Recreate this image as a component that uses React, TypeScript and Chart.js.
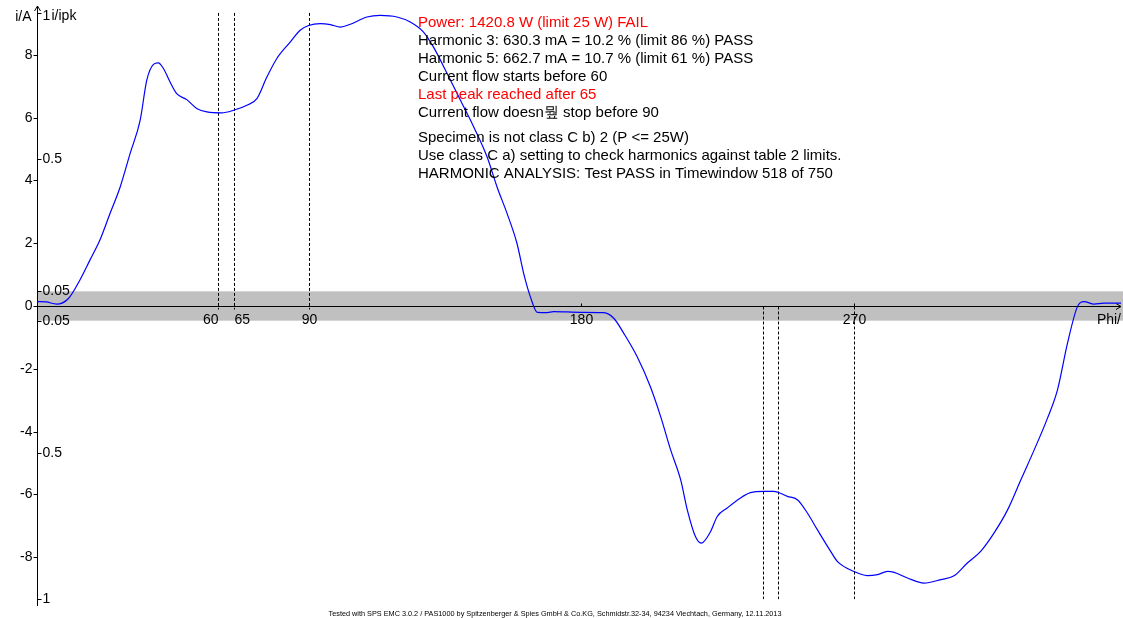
import { useEffect, useRef } from "react";
import { Chart, registerables } from "chart.js";

Chart.register(...registerables);

// Phase angle (degrees) of each sample of the recorded current waveform
const phiDeg = [
  0, 3.0, 6.5, 10.4, 14.2, 17.5, 20.8, 24.2, 27.5, 30.8, 34.1, 36.3, 38.5, 40.1, 41.8, 44.0,
  46.2, 49.5, 52.8, 56.2, 61.1, 65.0, 69.4, 72.7, 76.0, 79.3, 83.7, 87.0, 89.8, 93.6, 97.0,
  100.3, 103.6, 109.1, 113.5, 119.0, 123.4, 127.8, 131.1, 135.6, 140.0, 144.4, 148.8, 152.1,
  155.4, 158.7, 160.9, 163.1, 165.4, 168.7, 170.8, 179.7, 187.4, 190.7, 194.0, 198.4, 202.8,
  206.2, 209.5, 212.8, 215.0, 217.7, 219.6, 222.7, 224.9, 228.2, 232.6, 235.9, 240.3, 243.6,
  248.1, 251.4, 254.7, 258.0, 262.4, 264.6, 270.1, 274.5, 277.9, 281.2, 283.4, 287.8, 293.3,
  298.8, 303.2, 307.6, 312.0, 316.4, 320.9, 325.3, 329.7, 334.1, 337.4, 340.7, 344.0, 346.2,
  349.5, 352.8, 358.4,
];

// Instantaneous current (A) at each phase angle
const currentA = [
  0.14, 0.13, 0.06, 0.24, 0.83, 1.46, 2.1, 2.96, 3.79, 4.86, 5.91, 7.19, 7.69, 7.74, 7.56, 7.13,
  6.76, 6.57, 6.29, 6.18, 6.15, 6.23, 6.39, 6.6, 7.29, 7.88, 8.4, 8.78, 8.93, 8.99, 8.96,
  8.88, 8.97, 9.2, 9.25, 9.2, 9.04, 8.72, 8.24, 7.4, 6.55, 5.7, 4.75, 3.79,
  2.95, 1.99, 1.04, 0.3, -0.2, -0.21, -0.18, -0.2, -0.21, -0.39, -0.87, -1.61, -2.57,
  -3.52, -4.58, -5.53, -6.49, -7.34, -7.55, -7.18, -6.7, -6.43, -6.11, -5.94, -5.9, -5.9,
  -6.06, -6.17, -6.59, -7.12, -7.81, -8.13, -8.45, -8.58, -8.55, -8.45, -8.48, -8.66, -8.82,
  -8.71, -8.59, -8.18, -7.81, -7.23, -6.49, -5.53, -4.58, -3.57, -2.67, -1.19, -0.02, 0.14,
  0.06, 0.09, 0.09,
];

const iPeak = 9.33; // A, scale of the relative i/ipk axis
const bandRel = 0.05; // relative tolerance band around zero

const currentTicks = [-8, -6, -4, -2, 0, 2, 4, 6, 8];
const relativeTicks = [1, 0.5, 0.05, -0.05, -0.5, -1];
const phiTicks = [60, 65, 90, 180, 270];

// Limit markers of the positive and negative half wave
const markersPositive = [60, 65, 90];
const markersNegative = [240, 245, 270];

const infoLines = [
  { text: "Power: 1420.8 W (limit 25 W) FAIL", fail: true },
  { text: "Harmonic 3: 630.3 mA = 10.2 % (limit 86 %) PASS", fail: false },
  { text: "Harmonic 5: 662.7 mA = 10.7 % (limit 61 %) PASS", fail: false },
  { text: "Current flow starts before 60", fail: false },
  { text: "Last peak reached after 65", fail: true },
  { text: "Current flow doesn뭪 stop before 90", fail: false },
  { text: "Specimen is not class C b) 2 (P <= 25W)", fail: false },
  { text: "Use class C a) setting to check harmonics against table 2 limits.", fail: false },
  { text: "HARMONIC ANALYSIS: Test PASS in Timewindow 518 of 750", fail: false },
];

const footerText =
  "Tested with SPS EMC 3.0.2 / PAS1000 by Spitzenberger & Spies GmbH & Co.KG, Schmidstr.32-34, 94234 Viechtach, Germany, 12.11.2013";

const FONT = '"Liberation Sans", Arial, sans-serif';

const axesPlugin = {
  id: "phaseAxes",
  beforeDatasetsDraw(chart: any) {
    const { ctx, chartArea } = chart;
    const xs = chart.scales.x;
    const ys = chart.scales.y;
    const left = Math.round(chartArea.left) + 0.5;
    const y0 = Math.round(ys.getPixelForValue(0)) + 0.5;

    ctx.save();
    // tolerance band
    const bTop = ys.getPixelForValue(bandRel * iPeak);
    const bBot = ys.getPixelForValue(-bandRel * iPeak);
    ctx.fillStyle = "#c0c0c0";
    ctx.fillRect(chartArea.left, bTop, chart.width - chartArea.left, bBot - bTop);

    ctx.strokeStyle = "#000";
    ctx.fillStyle = "#000";
    ctx.lineWidth = 1;

    // dashed limit markers
    ctx.setLineDash([3, 2]);
    ctx.beginPath();
    for (const p of markersPositive) {
      const x = Math.round(xs.getPixelForValue(p)) + 0.5;
      ctx.moveTo(x, ys.getPixelForValue(iPeak));
      ctx.lineTo(x, y0 + 3);
    }
    for (const p of markersNegative) {
      const x = Math.round(xs.getPixelForValue(p)) + 0.5;
      ctx.moveTo(x, y0);
      ctx.lineTo(x, ys.getPixelForValue(-iPeak));
    }
    ctx.stroke();
    ctx.setLineDash([]);

    // axes lines
    ctx.beginPath();
    ctx.moveTo(chartArea.left, y0);
    ctx.lineTo(chartArea.right, y0);
    ctx.moveTo(left, chartArea.bottom);
    ctx.lineTo(left, chartArea.top);
    // arrow heads
    ctx.moveTo(chartArea.right - 5, y0 - 3);
    ctx.lineTo(chartArea.right, y0);
    ctx.lineTo(chartArea.right - 5, y0 + 3);
    ctx.moveTo(left - 3, chartArea.top + 5);
    ctx.lineTo(left, chartArea.top);
    ctx.lineTo(left + 3, chartArea.top + 5);
    ctx.stroke();

    // current ticks (left)
    ctx.font = `14px ${FONT}`;
    ctx.textAlign = "right";
    ctx.textBaseline = "middle";
    ctx.beginPath();
    for (const v of currentTicks) {
      const y = Math.round(ys.getPixelForValue(v)) + 0.5;
      ctx.moveTo(left - 4, y);
      ctx.lineTo(left, y);
      ctx.fillText(String(v), left - 5, y);
    }
    ctx.stroke();
    ctx.fillText("i/A", left - 6, 17);

    // relative ticks (right of the axis)
    ctx.textAlign = "left";
    ctx.beginPath();
    for (const r of relativeTicks) {
      const y = Math.round(ys.getPixelForValue(r * iPeak)) + 0.5;
      ctx.moveTo(left, y);
      ctx.lineTo(left + 4, y);
      const ty = Math.abs(r) === 1 && r > 0 ? y + 3 : y;
      ctx.fillText(String(Math.abs(r)), left + 5, ty);
    }
    ctx.stroke();
    ctx.fillText("i/ipk", left + 14, 16);

    // phase ticks
    ctx.beginPath();
    for (const p of phiTicks) {
      const x = Math.round(xs.getPixelForValue(p)) + 0.5;
      ctx.moveTo(x, y0 - 3);
      ctx.lineTo(x, y0);
      ctx.textAlign = p === 60 ? "right" : p === 65 ? "left" : "center";
      ctx.fillText(String(p), x, y0 + 14);
    }
    ctx.stroke();
    ctx.textAlign = "right";
    ctx.fillText("Phi/", chartArea.right, y0 + 14);
    ctx.restore();
  },
  afterDatasetsDraw(chart: any) {
    const { ctx } = chart;
    ctx.save();
    ctx.font = `15px ${FONT}`;
    ctx.textAlign = "left";
    ctx.textBaseline = "middle";
    infoLines.forEach((line, i) => {
      const y = i < 6 ? 23 + i * 18 : 138 + (i - 6) * 18;
      ctx.fillStyle = line.fail ? "#ff0000" : "#000000";
      ctx.fillText(line.text, 418, y);
    });
    ctx.font = `7.3px ${FONT}`;
    ctx.textAlign = "center";
    ctx.fillStyle = "#000";
    ctx.fillText(footerText, 555, 614);
    ctx.restore();
  },
};

export default function App() {
  const canvasRef = useRef<HTMLCanvasElement | null>(null);

  useEffect(() => {
    const canvas = canvasRef.current;
    if (!canvas) return;
    const chart = new Chart(canvas, {
      type: "line",
      data: {
        datasets: [
          {
            data: phiDeg.map((p, i) => ({ x: p, y: currentA[i] })),
            borderColor: "#0000ff",
            borderWidth: 1.2,
            pointRadius: 0,
            cubicInterpolationMode: "monotone",
            fill: false,
          },
        ],
      },
      options: {
        responsive: false,
        animation: false,
        devicePixelRatio: 1,
        layout: { padding: { left: 37, right: 2, top: 6, bottom: 12 } },
        scales: {
          x: { type: "linear", min: 0, max: 358.4, display: false },
          y: { type: "linear", min: -9.55, max: 9.55, display: false },
        },
        plugins: { legend: { display: false }, tooltip: { enabled: false } },
      },
      plugins: [axesPlugin],
    });
    return () => chart.destroy();
  }, []);

  return (
    <div style={{ position: "absolute", left: 0, top: 0, width: 1123, height: 618, background: "#fff" }}>
      <canvas ref={canvasRef} width={1123} height={618} />
    </div>
  );
}
